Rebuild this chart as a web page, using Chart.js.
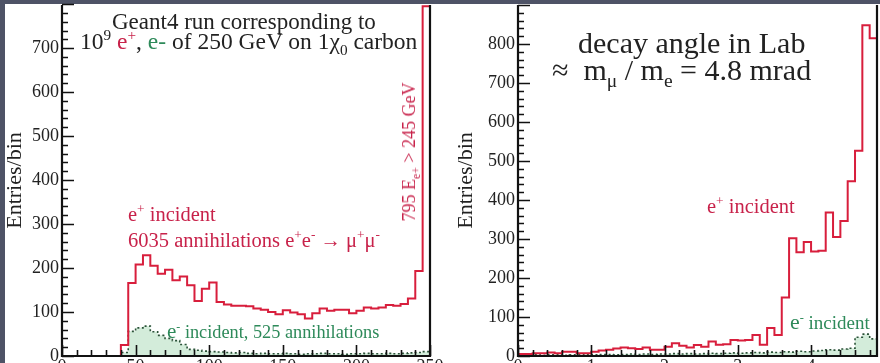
<!DOCTYPE html>
<html><head><meta charset="utf-8">
<script src="https://cdn.jsdelivr.net/npm/chart.js@4.4.1/dist/chart.umd.min.js"></script>
<style>
html,body{margin:0;padding:0;width:880px;height:363px;overflow:hidden;background:#4e5366;position:relative;}
#white{position:absolute;left:5px;top:4px;width:875px;height:359px;background:#fff;}
canvas{position:absolute;top:0;}
#c1{left:0;}
#c2{left:440px;}
.t{position:absolute;font-family:'Liberation Serif','Times New Roman',serif;white-space:nowrap;line-height:1;}
.red{color:#c8224a}
.green{color:#2e8a5a}
.blk{color:#222}
sup,sub{font-size:0.65em;line-height:0;}
.big{font-size:1.15em;}
</style></head>
<body>
<div id="white"></div>
<canvas id="c1" width="450" height="395"></canvas>
<canvas id="c2" width="460" height="395"></canvas>

<div class="t blk" style="left:112px;top:10px;font-size:23px;">Geant4 run corresponding to</div>
<div class="t blk" style="left:80px;top:30px;font-size:23.5px;">10<sup>9</sup> <span class="red">e<sup>+</sup></span>, <span class="green">e-</span> of 250 GeV on 1χ<sub>0</sub> carbon</div>
<div class="t red" style="left:128px;top:204px;font-size:20.5px;">e<sup>+</sup> incident</div>
<div class="t red" style="left:128px;top:230px;font-size:20.5px;">6035 annihilations e<sup>+</sup>e<sup>-</sup> → μ<sup>+</sup>μ<sup>-</sup></div>
<div class="t green" style="left:167px;top:321px;font-size:18.3px;"><span class="big">e</span><sup>-</sup> incident, 525 annihilations</div>
<div class="t red" style="left:409px;top:152px;font-size:18px;transform:translate(-50%,-50%) rotate(-90deg);">795 E<sub>e+</sub> &gt; 245 GeV</div>

<div class="t blk" style="left:578px;top:28px;font-size:30px;">decay angle in Lab</div>
<div class="t blk" style="left:552px;top:55px;font-size:30px;">≈ &nbsp;m<sub>μ</sub> / m<sub>e</sub> = 4.8 mrad</div>
<div class="t red" style="left:707px;top:196px;font-size:20.5px;">e<sup>+</sup> incident</div>
<div class="t green" style="left:790px;top:312px;font-size:19px;"><span class="big">e</span><sup>-</sup> incident</div>

<script>
// ---------------- data ----------------
// Left panel: e+ energy (GeV), 5 GeV bins
const energyEdges = [0,5,10,15,20,25,30,35,40,45,50,55,60,65,70,75,80,85,90,95,100,105,110,115,120,125,130,135,140,145,150,155,160,165,170,175,180,185,190,195,200,205,210,215,220,225,230,235,240,245,250];
const energyPositron = [0,0,0,0,0,0,0,0,25,166,208,229,205,187,196,172,181,161,125,153,167,123,117,114,114,113,108,105,100,95,104,99,95,85,97,108,103,105,105,97,103,110,108,110,116,114,118,131,193,795];
const energyElectron = [0,0,0,0,0,0,0,0,8,56,64,68,55,47,40,35,26,15,13,11,10,9,8,7,8,6,5,6,5,5,6,5,4,5,5,6,5,5,4,5,5,6,5,5,6,5,6,7,8,10];
const energyTicks = [0,50,100,150,200,250];
const leftCountTicks = [0,100,200,300,400,500,600,700];

// Right panel: decay angle in lab (mrad), 0.1 mrad bins
const angleEdges = [0,0.1,0.2,0.3,0.4,0.5,0.6,0.7,0.8,0.9,1.0,1.1,1.2,1.3,1.4,1.5,1.6,1.7,1.8,1.9,2.0,2.1,2.2,2.3,2.4,2.5,2.6,2.7,2.8,2.9,3.0,3.1,3.2,3.3,3.4,3.5,3.6,3.7,3.8,3.9,4.0,4.1,4.2,4.3,4.4,4.5,4.6,4.7,4.8,4.9];
const anglePositron = [5,5,7,7,9,7,11,11,7,7,11,14,16,19,22,20,18,22,16,16,24,33,26,22,28,24,37,29,30,41,40,41,54,29,72,54,150,302,266,292,268,270,368,305,346,448,526,848,815];
const angleElectron = [2,2,3,2,3,3,2,3,3,4,3,4,4,3,4,5,4,5,4,5,5,6,5,6,5,6,7,6,7,8,7,8,9,8,10,9,11,10,12,11,13,14,16,15,18,20,48,56,44];
const angleTicks = [0,1,2,3,4];
const rightCountTicks = [0,100,200,300,400,500,600,700,800];

// ---------------- helpers ----------------
function histPoints(edges, counts){
  const pts = [{x: edges[0], y: 0}];
  counts.forEach((c, i) => pts.push({x: edges[i], y: c}));
  pts.push({x: edges[counts.length], y: 0});
  return pts;
}

const SERIF = "'Liberation Serif','Times New Roman',serif";
const RED = '#d81e3c';
const GREENLINE = '#2b5238';
const GREENFILL = 'rgba(150,210,168,0.42)';

const innerTicks = {
  id: 'innerTicks',
  afterDatasetsDraw(chart, args, o) {
    const {ctx, chartArea: a, scales: {x, y}} = chart;
    ctx.save();
    ctx.strokeStyle = '#111';
    ctx.lineWidth = 1.6;
    ctx.beginPath();
    const nx = Math.round((x.max - x.min) / o.xMinor + 1e-6);
    for (let i = 0; i <= nx; i++) {
      const v = x.min + i * o.xMinor;
      const px = Math.round(x.getPixelForValue(v)) + 0.5;
      const major = (i % o.xPer) === 0;
      ctx.moveTo(px, a.bottom);
      ctx.lineTo(px, a.bottom - (major ? 11 : 6));
    }
    const ny = Math.round((y.max - y.min) / o.yMinor + 1e-6);
    for (let i = 0; i <= ny; i++) {
      const v = y.min + i * o.yMinor;
      const py = Math.round(y.getPixelForValue(v)) + 0.5;
      const major = (i % o.yPer) === 0;
      ctx.moveTo(a.left, py);
      ctx.lineTo(a.left + (major ? 12 : 6), py);
    }
    ctx.stroke();
    ctx.lineWidth = 2.2;
    ctx.beginPath();
    ctx.moveTo(a.left, a.top);
    ctx.lineTo(a.left, a.bottom);
    ctx.lineTo(a.right, a.bottom);
    if (o.rightFrame) ctx.lineTo(a.right, a.top);
    ctx.stroke();
    ctx.restore();
  }
};

function makeChart(id, cfg) {
  return new Chart(document.getElementById(id), {
    type: 'line',
    data: {
      datasets: [
        {
          data: histPoints(cfg.edges, cfg.pos),
          stepped: true, borderColor: RED, borderWidth: 2, pointRadius: 0, fill: false, order: 1
        },
        {
          data: histPoints(cfg.edges, cfg.ele),
          stepped: true, borderColor: GREENLINE, borderWidth: 1.6, borderDash: [2, 2.5],
          backgroundColor: GREENFILL, pointRadius: 0, fill: 'origin', order: 2
        }
      ]
    },
    options: {
      responsive: false, animation: false, devicePixelRatio: 1,
      layout: {padding: {left: 0, right: cfg.padRight, top: 5, bottom: 0}},
      plugins: {legend: {display: false}, tooltip: {enabled: false}, innerTicks: cfg.tickOpts},
      scales: {
        x: {
          type: 'linear', min: cfg.xmin, max: cfg.xmax,
          afterBuildTicks: s => { s.ticks = cfg.xTicks.map(v => ({value: v})); },
          afterFit: s => { s.height = 39; s.paddingLeft = 0; s.paddingRight = 0; },
          grid: {display: false, drawTicks: false}, border: {display: false},
          ticks: {font: {family: SERIF, size: 18}, color: '#222', padding: 0, maxRotation: 0, autoSkip: false}
        },
        y: {
          type: 'linear', min: 0, max: cfg.ymax,
          afterBuildTicks: s => { s.ticks = cfg.yTicks.map(v => ({value: v})); },
          afterFit: s => { s.width = cfg.yWidth; s.paddingTop = 0; s.paddingBottom = 0; },
          grid: {display: false, drawTicks: false}, border: {display: false},
          ticks: {font: {family: SERIF, size: 18}, color: '#222', padding: 3, autoSkip: false},
          title: {display: true, text: 'Entries/bin', font: {family: SERIF, size: 22}, color: '#222',
                  padding: {top: cfg.titlePad, bottom: 0}}
        }
      }
    },
    plugins: [innerTicks]
  });
}

makeChart('c1', {
  edges: energyEdges, pos: energyPositron, ele: energyElectron,
  xmin: 0, xmax: 250, ymax: 798, xTicks: energyTicks, yTicks: leftCountTicks,
  yWidth: 62, padRight: 20, titlePad: 2,
  tickOpts: {xMinor: 10, xPer: 5, yMinor: 20, yPer: 5, rightFrame: true}
});

makeChart('c2', {
  edges: angleEdges, pos: anglePositron, ele: angleElectron,
  xmin: 0, xmax: 4.9, ymax: 900, xTicks: angleTicks, yTicks: rightCountTicks,
  yWidth: 78, padRight: 23, titlePad: 13,
  tickOpts: {xMinor: 0.2, xPer: 5, yMinor: 20, yPer: 5, rightFrame: true}
});
</script>
</body></html>
